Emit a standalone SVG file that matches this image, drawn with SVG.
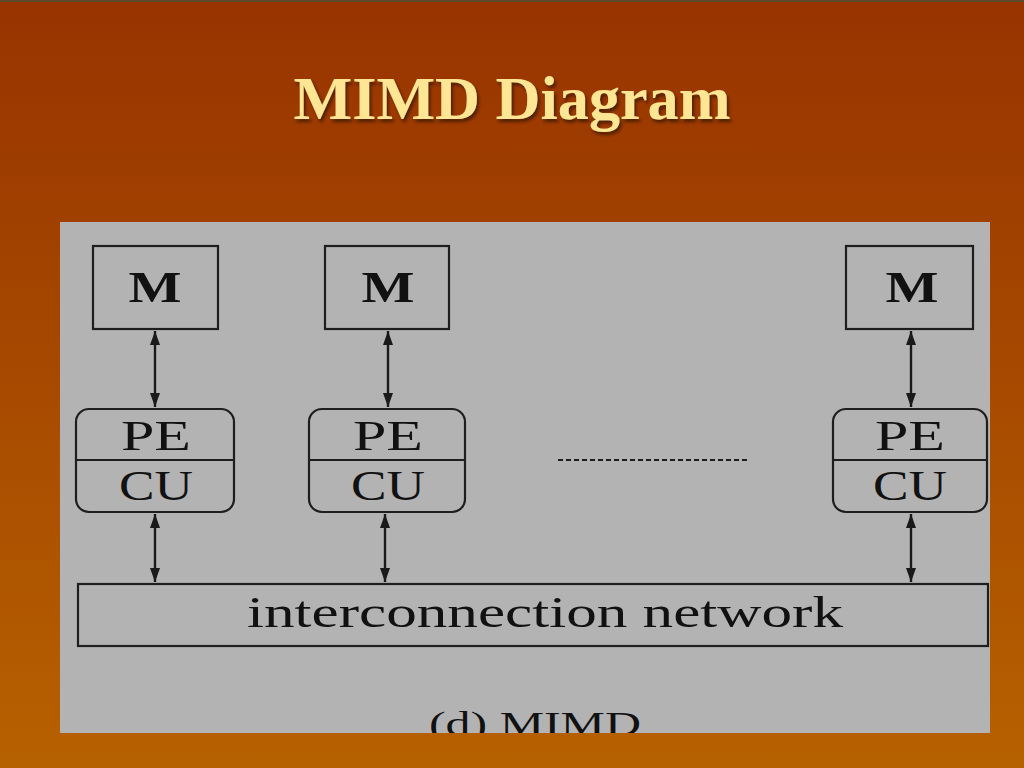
<svg xmlns="http://www.w3.org/2000/svg" width="1024" height="768" viewBox="0 0 1024 768">
<defs>
<linearGradient id="bg" x1="0" y1="0" x2="0" y2="1">
<stop offset="0" stop-color="#983300"/>
<stop offset="1" stop-color="#b66100"/>
</linearGradient>
<filter id="sh" x="-10%" y="-10%" width="120%" height="130%">
<feDropShadow dx="2" dy="3" stdDeviation="1.5" flood-color="#3a1500" flood-opacity="0.8"/>
</filter>
<clipPath id="panelClip"><rect x="60" y="222" width="930" height="511"/></clipPath>
<marker id="ah" viewBox="0 0 14 12" refX="14" refY="6" markerWidth="14" markerHeight="12" markerUnits="userSpaceOnUse" orient="auto-start-reverse">
<path d="M0,1 L14,6 L0,11 z" fill="#1a1a1a"/>
</marker>
<style>
.box{fill:#b3b3b3;stroke:#1e1e1e;stroke-width:2.2}
.div{stroke:#1e1e1e;stroke-width:2}
.lbl{font-family:"Liberation Serif","Times New Roman",serif;fill:#111;text-anchor:middle}
.mb{font-size:44px;font-weight:bold}
.pe{font-size:42px}
.con{stroke:#1a1a1a;stroke-width:2.4;fill:none;marker-start:url(#ah);marker-end:url(#ah)}
</style>
</defs>
<rect x="0" y="0" width="1024" height="768" fill="url(#bg)"/>
<rect x="0" y="0" width="1024" height="2" fill="#5a4a2a"/>
<text x="512" y="119" font-family="Liberation Serif,Times New Roman,serif" font-weight="bold" font-size="62" fill="#ffe694" text-anchor="middle" filter="url(#sh)" textLength="437" lengthAdjust="spacingAndGlyphs">MIMD Diagram</text>
<rect x="60" y="222" width="930" height="511" fill="#b3b3b3"/>
<g id="m1"><rect class="box" x="93" y="246" width="125" height="83"/><text class="lbl mb" x="155" y="302" textLength="53" lengthAdjust="spacingAndGlyphs">M</text></g>
<g id="m2"><rect class="box" x="325" y="246" width="124" height="83"/><text class="lbl mb" x="388" y="302" textLength="53" lengthAdjust="spacingAndGlyphs">M</text></g>
<g id="m3"><rect class="box" x="846" y="246" width="127" height="83"/><text class="lbl mb" x="912" y="302" textLength="53" lengthAdjust="spacingAndGlyphs">M</text></g>
<g id="p1"><rect class="box" x="76" y="409" width="158" height="103" rx="13"/><line class="div" x1="76" y1="460" x2="234" y2="460"/><text class="lbl pe" x="156" y="450" textLength="70" lengthAdjust="spacingAndGlyphs">PE</text><text class="lbl pe" x="156" y="500" textLength="74" lengthAdjust="spacingAndGlyphs">CU</text></g>
<g id="p2"><rect class="box" x="309" y="409" width="156" height="103" rx="13"/><line class="div" x1="309" y1="460" x2="465" y2="460"/><text class="lbl pe" x="388" y="450" textLength="70" lengthAdjust="spacingAndGlyphs">PE</text><text class="lbl pe" x="388" y="500" textLength="74" lengthAdjust="spacingAndGlyphs">CU</text></g>
<g id="p3"><rect class="box" x="833" y="409" width="154" height="103" rx="13"/><line class="div" x1="833" y1="460" x2="987" y2="460"/><text class="lbl pe" x="910" y="450" textLength="70" lengthAdjust="spacingAndGlyphs">PE</text><text class="lbl pe" x="910" y="500" textLength="74" lengthAdjust="spacingAndGlyphs">CU</text></g>
<g id="net"><rect class="box" x="78" y="584" width="910" height="62"/><text class="lbl" x="545" y="627" font-size="44" textLength="596" lengthAdjust="spacingAndGlyphs">interconnection network</text></g>
<g id="connectors">
<line class="con" x1="155" y1="331" x2="155" y2="407"/>
<line class="con" x1="388" y1="331" x2="388" y2="407"/>
<line class="con" x1="911" y1="331" x2="911" y2="407"/>
<line class="con" x1="155" y1="514" x2="155" y2="582"/>
<line class="con" x1="385" y1="514" x2="385" y2="582"/>
<line class="con" x1="911" y1="514" x2="911" y2="582"/>
<line x1="558" y1="460" x2="750" y2="460" stroke="#1e1e1e" stroke-width="2" stroke-dasharray="5,3"/>
</g>
<g clip-path="url(#panelClip)"><text class="lbl" x="535" y="735" font-size="34" textLength="212" lengthAdjust="spacingAndGlyphs">(d) MIMD</text></g>
</svg>
